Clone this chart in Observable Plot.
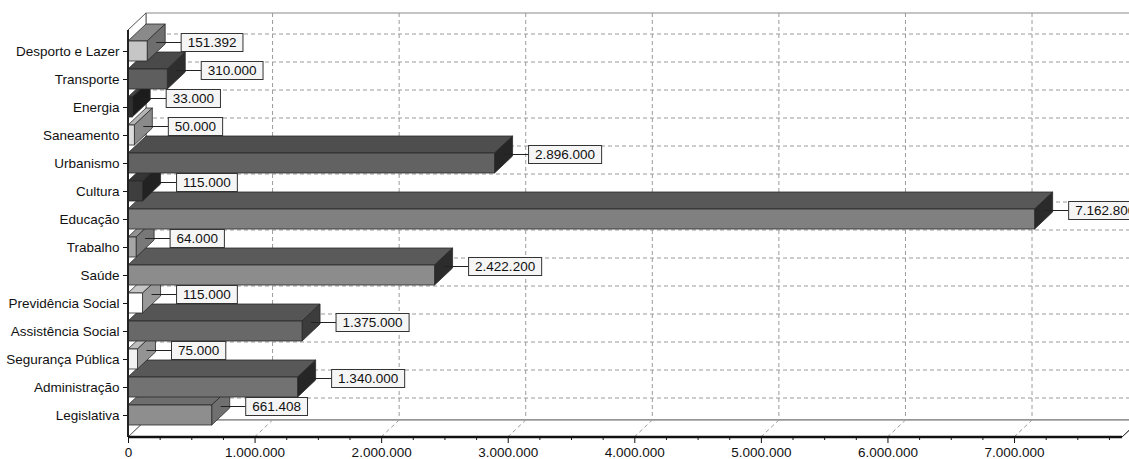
<!DOCTYPE html>
<html><head><meta charset="utf-8">
<script src="https://cdn.jsdelivr.net/npm/d3@7"></script>
<script src="https://cdn.jsdelivr.net/npm/@observablehq/plot@0.6"></script>
<style>body{margin:0;background:#fff} #chart svg{overflow:hidden;display:block}</style>
</head><body><div id="chart"></div>
<script>
// ---- data ----
const categories = ["Desporto e Lazer","Transporte","Energia","Saneamento","Urbanismo","Cultura","Educação","Trabalho","Saúde","Previdência Social","Assistência Social","Segurança Pública","Administração","Legislativa"];
const values = [151392, 310000, 33000, 50000, 2896000, 115000, 7162800, 64000, 2422200, 115000, 1375000, 75000, 1340000, 661408];
const xTicks = [0, 1000000, 2000000, 3000000, 4000000, 5000000, 6000000, 7000000];
const xMinorTicks = d3.range(0, 7850000, 250000).filter(v => v % 1000000 !== 0);
const xMax = 7853000;

// ---- styles ----
const frontColors = ["#c6c6c6","#5e5e5e","#303030","#dcdcdc","#626262","#3e3e3e","#808080","#a6a6a6","#8c8c8c","#ffffff","#686868","#f2f2f2","#727272","#8e8e8e"];
const topColors   = ["#8a8a8a","#4a4a4a","#444444","#b4b4b4","#4e4e4e","#353535","#585858","#939393","#5a5a5a","#c6c6c6","#555555","#bebebe","#585858","#6e6e6e"];
const sideColors  = ["#6e6e6e","#2e2e2e","#1c1c1c","#8a8a8a","#262626","#222222","#2a2a2a","#787878","#2c2c2c","#999999","#3c3c3c","#939393","#262626","#707070"];
const DX = 18, DY = -17;
const FONT = "'Liberation Sans', Arial, Helvetica, sans-serif";
const FS = 13.5;
const fmt = d3.formatLocale({decimal: ",", thousands: ".", grouping: [3], currency: ["", ""]}).format(",d");

const data = categories.map((cat, i) => ({cat, value: values[i], i}));

const canvas = document.createElement("canvas").getContext("2d");
canvas.font = FS + "px " + FONT;
const measure = s => canvas.measureText(s).width;

function wallsMark(index, scales, vals, dims) {
  const x = scales.x, y = scales.y;
  const {height, marginTop, marginBottom} = dims;
  const xl = x(0), xr = x(xMax), yt = marginTop, yb = height - marginBottom;
  const g = d3.create("svg:g");
  g.append("rect").attr("x", xl + DX).attr("y", yt + DY).attr("width", xr - xl + 40).attr("height", yb - yt)
    .attr("fill", "#fff").attr("stroke", "#8a8a8a");
  g.append("polygon").attr("points", `${xl},${yt} ${xl+DX},${yt+DY} ${xl+DX},${yb+DY} ${xl},${yb}`)
    .attr("fill", "#fff").attr("stroke", "#555");
  g.append("polygon").attr("points", `${xl},${yb} ${xl+DX},${yb+DY} ${xr+DX},${yb+DY} ${xr},${yb}`)
    .attr("fill", "#fff").attr("stroke", "#666");
  const dash = "4,3", gc = "#9a9a9a";
  for (const t of xTicks.slice(1)) {
    g.append("line").attr("x1", x(t) + DX).attr("x2", x(t) + DX).attr("y1", yt + DY).attr("y2", yb + DY)
      .attr("stroke", gc).attr("stroke-dasharray", dash);
    g.append("line").attr("x1", x(t)).attr("x2", x(t) + DX).attr("y1", yb).attr("y2", yb + DY)
      .attr("stroke", gc).attr("stroke-dasharray", dash);
  }
  const bw = y.bandwidth();
  for (const c of categories) {
    const yc = y(c) + bw / 2 + DY;
    g.append("line").attr("x1", xl + DX).attr("x2", xr + DX + 40).attr("y1", yc).attr("y2", yc)
      .attr("stroke", gc).attr("stroke-dasharray", dash);
  }
  return g.node();
}

function facesMark(index, scales) {
  const x = scales.x, y = scales.y, bw = y.bandwidth();
  const g = d3.create("svg:g").attr("stroke", "#2a2a2a").attr("stroke-width", 0.8).attr("stroke-linejoin", "round");
  for (let i = data.length - 1; i >= 0; i--) {
    const d = data[i];
    const yt = y(d.cat), yb = yt + bw, xl = x(0), xr = x(d.value);
    g.append("polygon").attr("points", `${xl},${yt} ${xl+DX},${yt+DY} ${xr+DX},${yt+DY} ${xr},${yt}`).attr("fill", topColors[i]);
    g.append("polygon").attr("points", `${xr},${yt} ${xr+DX},${yt+DY} ${xr+DX},${yb+DY} ${xr},${yb}`).attr("fill", sideColors[i]);
  }
  return g.node();
}

function boxesMark(index, scales) {
  const x = scales.x, y = scales.y, bw = y.bandwidth();
  const g = d3.create("svg:g");
  for (const d of data) {
    const xr = x(d.value), yc = y(d.cat) + bw / 2;
    const ym = yc - 8.5;
    g.append("line").attr("x1", xr + DX / 2).attr("x2", xr + 34).attr("y1", ym).attr("y2", ym).attr("stroke", "#222");
    const w = measure(fmt(d.value)) + 13;
    g.append("rect").attr("x", xr + 34).attr("y", ym - 9).attr("width", w).attr("height", 18)
      .attr("fill", "#f5f5f5").attr("stroke", "#333");
  }
  return g.node();
}

function axisLinesMark(index, scales, vals, dims) {
  const x = scales.x;
  const {height, marginTop, marginBottom} = dims;
  const xl = x(0), xr = x(xMax), yt = marginTop, yb = height - marginBottom;
  const g = d3.create("svg:g");
  g.append("line").attr("x1", xl).attr("x2", xl).attr("y1", yt).attr("y2", yb).attr("stroke", "#222").attr("stroke-width", 2);
  g.append("line").attr("x1", xl).attr("x2", xr).attr("y1", yb).attr("y2", yb).attr("stroke", "#111").attr("stroke-width", 2.5);
  g.append("line").attr("x1", xr).attr("x2", xr + DX).attr("y1", yb).attr("y2", yb + DY).attr("stroke", "#333");
  return g.node();
}

const chart = Plot.plot({
  width: 1129,
  height: 459,
  marginLeft: 128,
  marginRight: 7,
  marginTop: 30,
  marginBottom: 22,
  style: {fontFamily: FONT, fontSize: FS + "px", color: "#111", background: "#fff"},
  x: {domain: [0, xMax]},
  y: {domain: categories, range: [36, 429], paddingInner: 0.29, paddingOuter: 0.145},
  color: {type: "ordinal", domain: categories, range: frontColors},
  marks: [
    wallsMark,
    facesMark,
    Plot.barX(data, {x1: d => 0, x2: "value", y: "cat", fill: "cat", stroke: "#2a2a2a", strokeWidth: 0.8}),
    boxesMark,
    Plot.text(data, {x: "value", y: "cat", text: d => fmt(d.value), dx: 40, dy: -8.5, textAnchor: "start", fontSize: FS, fill: "#111"}),
    Plot.axisY({tickSize: 5, tickPadding: 4, fontSize: FS, label: null}),
    Plot.axisX(xTicks, {tickFormat: fmt, tickSize: 6, tickPadding: 4, fontSize: FS, label: null}),
    Plot.axisX(xMinorTicks, {tickFormat: () => "", tickSize: 3, label: null}),
    axisLinesMark
  ]
});
document.getElementById("chart").append(chart);
</script>
</body></html>
